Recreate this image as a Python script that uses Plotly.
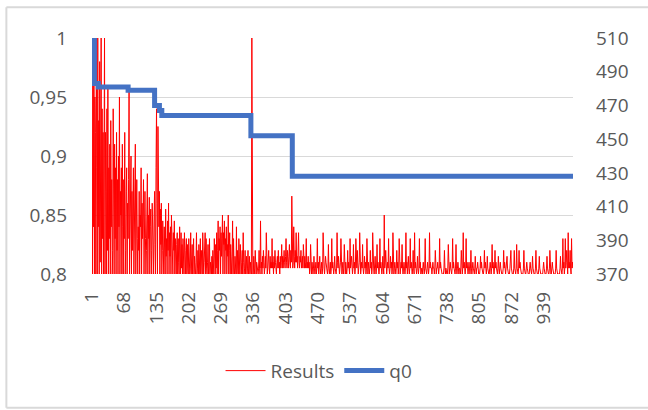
import plotly.graph_objects as go

# Run results, stored as thousandths above 0.800 (value = 0.800 + d/1000), runs 1..1000
results_d = [
    200, 0, 160, 40, 190, 0, 150, 120, 0, 200, 90, 0, 200, 40, 130, 0, 180, 10, 110, 200, 0, 140, 30, 120, 0,
    100, 200, 0, 120, 70, 0, 140, 20, 160, 0, 90, 30, 110, 0, 130, 40, 80, 0, 20, 140, 60, 0, 110, 30, 90,
    0, 120, 20, 80, 0, 100, 40, 150, 0, 70, 50, 90, 0, 110, 40, 0, 80, 30, 120, 0, 20, 70, 90, 0, 60,
    30, 80, 155, 0, 60, 30, 100, 0, 70, 20, 50, 90, 0, 60, 40, 110, 0, 50, 80, 30, 0, 40, 20, 70, 0,
    50, 40, 90, 0, 60, 30, 50, 80, 0, 40, 70, 30, 0, 20, 45, 85, 0, 50, 30, 65, 0, 40, 55, 20, 0,
    60, 30, 45, 0, 50, 70, 25, 0, 90, 140, 60, 0, 125, 50, 40, 70, 0, 55, 25, 60, 0, 20, 45, 30, 0,
    40, 20, 0, 55, 15, 30, 0, 45, 20, 60, 0, 35, 15, 40, 0, 50, 25, 10, 0, 35, 20, 45, 0, 30, 20,
    0, 25, 35, 0, 30, 10, 0, 40, 20, 0, 35, 5, 25, 0, 30, 10, 0, 35, 5, 0, 20, 30, 0, 25, 5,
    0, 30, 10, 0, 5, 35, 0, 10, 25, 0, 20, 30, 0, 15, 5, 0, 10, 35, 0, 5, 20, 0, 25, 5, 0,
    30, 0, 20, 5, 0, 35, 20, 0, 10, 25, 35, 0, 30, 5, 0, 10, 25, 0, 5, 30, 0, 10, 5, 0, 15,
    0, 20, 5, 0, 30, 10, 0, 25, 5, 35, 0, 20, 45, 0, 30, 20, 40, 0, 35, 15, 30, 50, 0, 35, 25,
    45, 0, 30, 20, 40, 0, 25, 15, 50, 0, 20, 35, 0, 25, 5, 0, 15, 45, 0, 30, 5, 0, 15, 10, 0,
    40, 0, 20, 5, 0, 30, 5, 0, 25, 5, 0, 10, 20, 0, 35, 10, 0, 5, 20, 0, 5, 15, 0, 5, 20,
    0, 5, 15, 0, 10, 5, 0, 200, 5, 0, 0, 15, 5, 0, 20, 5, 0, 10, 5, 0, 0, 5, 20, 5, 0,
    45, 5, 10, 0, 15, 5, 20, 10, 0, 5, 15, 5, 35, 10, 0, 5, 10, 20, 5, 0, 15, 5, 10, 5, 30,
    5, 10, 0, 15, 5, 20, 10, 5, 0, 10, 15, 5, 20, 5, 10, 0, 15, 5, 10, 25, 5, 15, 5, 10, 20,
    10, 5, 15, 30, 10, 5, 20, 10, 5, 15, 25, 10, 5, 20, 10, 66, 15, 5, 10, 40, 15, 5, 20, 10, 35,
    10, 15, 5, 20, 35, 10, 5, 15, 10, 20, 5, 10, 15, 5, 25, 10, 5, 15, 5, 10, 30, 5, 10, 5, 15,
    5, 10, 0, 5, 25, 5, 0, 10, 5, 0, 5, 15, 5, 0, 5, 10, 0, 5, 30, 5, 10, 0, 5, 15, 5,
    0, 5, 10, 0, 5, 35, 10, 5, 0, 5, 15, 10, 5, 0, 0, 5, 25, 5, 0, 5, 10, 0, 5, 30, 5,
    10, 5, 0, 5, 15, 5, 0, 0, 5, 35, 10, 5, 15, 5, 0, 5, 10, 30, 5, 0, 5, 10, 0, 5, 25,
    5, 0, 10, 5, 0, 5, 20, 5, 10, 5, 0, 30, 5, 10, 15, 5, 0, 5, 25, 5, 10, 0, 5, 30, 10,
    5, 20, 5, 0, 5, 10, 35, 5, 0, 5, 10, 5, 25, 5, 0, 5, 15, 5, 10, 0, 5, 30, 5, 0, 10,
    5, 0, 5, 20, 5, 10, 0, 5, 35, 10, 5, 0, 5, 15, 5, 0, 5, 25, 5, 10, 5, 0, 5, 30, 5,
    10, 5, 0, 5, 15, 5, 0, 50, 5, 10, 20, 5, 0, 5, 10, 5, 30, 5, 0, 5, 15, 5, 10, 0, 5,
    35, 5, 0, 5, 10, 5, 0, 5, 20, 5, 10, 0, 5, 30, 5, 0, 5, 10, 5, 25, 5, 0, 5, 10, 5,
    0, 5, 35, 5, 10, 0, 5, 15, 5, 0, 5, 30, 5, 10, 5, 0, 5, 20, 5, 0, 35, 5, 10, 5, 0,
    5, 15, 5, 0, 5, 30, 5, 10, 0, 5, 5, 0, 5, 10, 5, 0, 5, 30, 5, 0, 0, 5, 10, 5, 0,
    5, 35, 5, 10, 5, 5, 0, 5, 10, 5, 5, 0, 5, 20, 5, 0, 5, 5, 10, 5, 0, 5, 30, 5, 10,
    5, 0, 0, 0, 0, 0, 5, 20, 5, 0, 5, 0, 0, 0, 5, 25, 5, 0, 5, 10, 5, 0, 0, 5, 30,
    5, 10, 5, 0, 0, 5, 25, 5, 0, 5, 10, 5, 0, 5, 5, 0, 5, 20, 5, 0, 5, 35, 5, 10, 5,
    0, 5, 30, 5, 10, 5, 0, 5, 10, 5, 0, 5, 20, 5, 0, 5, 10, 5, 0, 0, 5, 15, 5, 0, 5,
    5, 10, 0, 0, 0, 0, 5, 15, 5, 10, 5, 0, 0, 0, 5, 20, 5, 10, 5, 0, 5, 15, 5, 0, 0,
    0, 5, 10, 5, 0, 5, 25, 5, 10, 5, 0, 5, 20, 5, 10, 5, 0, 0, 5, 15, 5, 0, 5, 10, 5,
    0, 0, 0, 0, 5, 20, 5, 10, 5, 0, 5, 10, 15, 5, 0, 0, 0, 0, 5, 10, 20, 5, 0, 0, 0,
    0, 5, 20, 5, 0, 0, 5, 25, 5, 0, 0, 5, 20, 5, 10, 5, 0, 0, 0, 0, 0, 5, 20, 5, 0,
    0, 0, 5, 10, 5, 0, 0, 0, 0, 5, 10, 5, 0, 0, 5, 15, 5, 0, 0, 0, 0, 5, 20, 5, 0,
    0, 0, 0, 5, 15, 5, 0, 0, 0, 0, 0, 0, 5, 10, 5, 0, 0, 0, 0, 5, 15, 5, 0, 0, 0,
    5, 20, 5, 0, 0, 5, 10, 5, 0, 0, 0, 0, 0, 5, 20, 5, 0, 0, 0, 0, 0, 0, 5, 15, 5,
    0, 0, 5, 30, 5, 10, 0, 5, 30, 5, 10, 20, 5, 0, 35, 5, 10, 5, 20, 5, 0, 30, 5, 10, 5,
]
results = [0.8 + d / 1000 for d in results_d]
runs = list(range(1, len(results) + 1))

# q0 parameter: run at which each level starts, and the level held from there on
q0_start = [1, 6, 14, 76, 131, 141, 146, 331, 417, 1000]
q0_value = [510, 483, 481, 479, 470, 467, 464, 452, 428, 428]

# Category tick labels (every 67th run)
x_ticks = [1, 68, 135, 202, 269, 336, 403, 470, 537, 604, 671, 738, 805, 872, 939]
left_ticks = [0.8, 0.85, 0.9, 0.95, 1.0]
left_labels = ["0,8", "0,85", "0,9", "0,95", "1"]
right_ticks = [370, 390, 410, 430, 450, 470, 490, 510]

FONT = dict(family="Open Sans", size=19, color="#595959")

fig = go.Figure()
fig.add_trace(go.Scatter(
    x=runs, y=results, name="Results", mode="lines",
    line=dict(color="#FF0000", width=1), yaxis="y",
))
fig.add_trace(go.Scatter(
    x=q0_start, y=q0_value, name="q0", mode="lines",
    line=dict(color="#4472C4", width=5, shape="hv"), yaxis="y2",
))

fig.update_layout(
    width=648, height=410,
    margin=dict(l=92, r=75, t=38, b=136),
    paper_bgcolor="white", plot_bgcolor="white",
    font=FONT,
    showlegend=True,
    legend=dict(orientation="h", x=0.472, xanchor="center", y=-0.41, yanchor="middle",
                font=FONT, itemwidth=40, tracegroupgap=0),
    xaxis=dict(range=[1, 1000], tickmode="array", tickvals=x_ticks,
               ticktext=[str(t) for t in x_ticks], tickangle=-90,
               showgrid=False, zeroline=False, showline=False,
               ticklabelstandoff=13, tickfont=FONT),
    yaxis=dict(range=[0.8, 1.0], tickmode="array", tickvals=left_ticks,
               ticktext=left_labels, showgrid=True, gridcolor="#D9D9D9",
               gridwidth=1, zeroline=False, showline=False,
               ticklabelstandoff=24, tickfont=FONT),
    yaxis2=dict(range=[370, 510], overlaying="y", side="right",
                tickmode="array", tickvals=right_ticks, showgrid=False,
                zeroline=False, showline=False, ticklabelstandoff=22,
                tickfont=FONT),
    shapes=[
        dict(type="line", xref="paper", yref="paper", x0=-0.178, x1=1.2,
             y0=1.13, y1=1.13, line=dict(color="#D9D9D9", width=2)),
        dict(type="line", xref="paper", yref="paper", x0=-0.178, x1=-0.178,
             y0=1.13, y1=-0.567, line=dict(color="#D9D9D9", width=2)),
        dict(type="line", xref="paper", yref="paper", x0=-0.178, x1=1.2,
             y0=-0.567, y1=-0.567, line=dict(color="#D9D9D9", width=2)),
    ],
)

fig.write_html("out.html")
